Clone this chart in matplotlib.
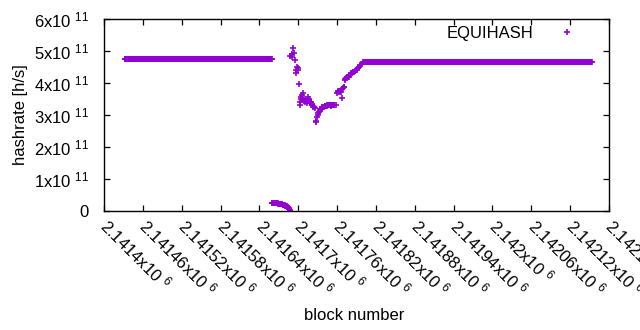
import numpy as np
import matplotlib
matplotlib.use("Agg")
import matplotlib.pyplot as plt
from matplotlib.ticker import FuncFormatter, MultipleLocator

plt.rcParams['font.family'] = ['Liberation Sans', 'DejaVu Sans']
plt.rcParams['mathtext.default'] = 'regular'
plt.rcParams['path.simplify'] = False

# plateau before the drop: first block, last block, hashrate
left_start, left_end, left_level = 2141432, 2141659, 4.74e11
# plateau after recovery
right_start, right_end, right_level = 2141800, 2142153, 4.66e11

# near-zero stretch, one value per block from 2141659
low_first = 2141659
low_vals = [0.26, 0.26, 0.26, 0.25, 0.25, 0.25, 0.25, 0.24, 0.24, 0.24,
            0.23, 0.23, 0.23, 0.22, 0.22, 0.21, 0.21, 0.20, 0.20, 0.19,
            0.18, 0.17, 0.16, 0.15, 0.13, 0.11, 0.09, 0.07, 0.04, 0.01]

# the scattered dip and recovery
mid_blocks = [2141688, 2141690, 2141691, 2141692, 2141693, 2141695, 2141696,
              2141697, 2141698, 2141699, 2141700, 2141701, 2141702, 2141703,
              2141704, 2141705, 2141706, 2141707, 2141708, 2141709, 2141710,
              2141711, 2141712, 2141713, 2141714, 2141715, 2141716, 2141717,
              2141718, 2141719, 2141720, 2141721, 2141722, 2141723, 2141724,
              2141725, 2141726, 2141727, 2141728, 2141729, 2141730, 2141731,
              2141732, 2141733, 2141734, 2141735, 2141736, 2141737, 2141738,
              2141739, 2141740, 2141741, 2141742, 2141743, 2141744, 2141745,
              2141746, 2141747, 2141748, 2141749, 2141750, 2141751, 2141752,
              2141753, 2141754, 2141755, 2141756, 2141758, 2141760, 2141761,
              2141762, 2141763, 2141764, 2141765, 2141766, 2141767, 2141768,
              2141769, 2141770, 2141771, 2141772, 2141773, 2141774, 2141775,
              2141776, 2141777, 2141778, 2141779, 2141780, 2141781, 2141782,
              2141783, 2141784, 2141785, 2141786, 2141787, 2141788, 2141790,
              2141791, 2141792, 2141793, 2141794, 2141796, 2141798]
mid_vals = [4.84, 4.91, 4.80, 5.08, 4.95, 4.72, 4.32,
            4.40, 4.51, 4.47, 4.41, 3.97, 3.42, 3.31,
            3.50, 3.57, 3.62, 3.70, 3.48, 3.45, 3.40,
            3.50, 3.44, 3.37, 3.47, 3.57, 3.50, 3.45,
            3.38, 3.40, 3.42, 3.35, 3.30, 3.26, 3.25,
            3.24, 3.22, 2.82, 2.79, 2.95, 3.00, 3.05,
            3.10, 3.12, 3.18, 3.20, 3.22, 3.24, 3.25,
            3.26, 3.26, 3.27, 3.28, 3.28, 3.29, 3.30,
            3.30, 3.31, 3.31, 3.30, 3.30, 3.29, 3.30,
            3.31, 3.32, 3.31, 3.30, 3.31, 3.70, 3.72,
            3.74, 3.75, 3.76, 3.73, 3.73, 3.54, 3.80,
            3.84, 3.87, 3.89, 4.10, 4.14, 4.16, 4.18,
            4.18, 4.19, 4.20, 4.24, 4.26, 4.28, 4.30,
            4.31, 4.33, 4.34, 4.35, 4.36, 4.38, 4.42,
            4.44, 4.46, 4.47, 4.50, 4.55, 4.60]

x_min, x_max, x_step = 2141400, 2142180, 60
y_max, y_step = 6e11, 1e11

blocks = np.concatenate([
    np.arange(left_start, left_end + 1),
    low_first + np.arange(len(low_vals)),
    np.array(mid_blocks),
    np.arange(right_start, right_end + 1),
])
rates = np.concatenate([
    np.full(left_end - left_start + 1, left_level),
    np.array(low_vals) * 1e11,
    np.array(mid_vals) * 1e11,
    np.full(right_end - right_start + 1, right_level),
])

fs = 12
fig = plt.figure(figsize=(6.4, 3.3), dpi=100)
ax = fig.add_axes([104 / 640, 1 - 211 / 330, 505 / 640, 192 / 330])

ax.plot(blocks, rates, ls='none', marker='+', ms=5, mew=1.2,
        color='#9400d3', label='EQUIHASH')

ax.set_xlim(x_min, x_max)
ax.set_ylim(0, y_max)
ax.xaxis.set_major_locator(MultipleLocator(x_step))
ax.yaxis.set_major_locator(MultipleLocator(y_step))


def xfmt(v, pos):
    return '%gx10 $^{6}$' % (v / 1e6)


def yfmt(v, pos):
    if v == 0:
        return '0'
    return '%dx10 $^{11}$' % round(v / 1e11)


ax.xaxis.set_major_formatter(FuncFormatter(xfmt))
ax.yaxis.set_major_formatter(FuncFormatter(yfmt))
ax.tick_params(direction='in', length=4, width=0.9, top=True, right=True,
               labelsize=fs, colors='black')
ax.tick_params(axis='y', pad=11)
ax.tick_params(axis='x', pad=8)
for lab in ax.get_xticklabels():
    lab.set_rotation(-45)
    lab.set_ha('left')
    lab.set_va('center')
    lab.set_rotation_mode('anchor')
for s in ax.spines.values():
    s.set_linewidth(1.0)

ax.set_xlabel('block number', fontsize=fs)
ax.set_ylabel('hashrate [h/s]', fontsize=fs)
ax.xaxis.set_label_coords(0.495, -0.505)
ax.yaxis.set_label_coords(-0.15, 0.5)

ax.legend(loc='upper right', frameon=False, markerfirst=False, fontsize=fs,
          handlelength=1.5, handletextpad=1.3, borderaxespad=0.2,
          bbox_to_anchor=(0.962, 1.016))

fig.savefig('out.png', dpi=100)
